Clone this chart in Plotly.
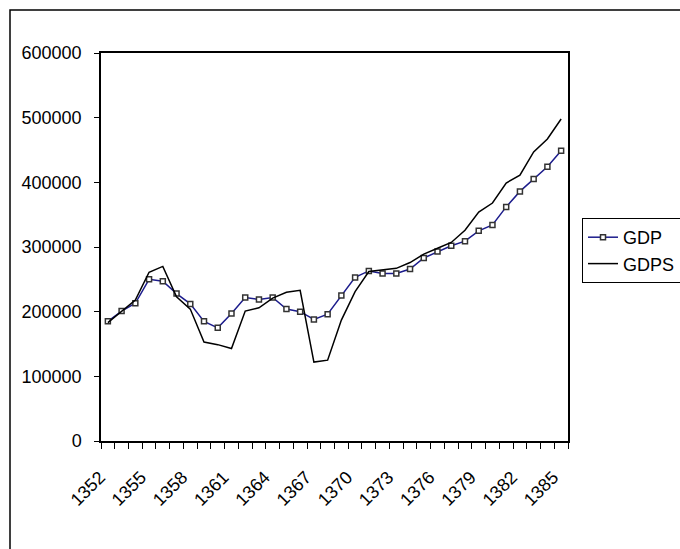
import plotly.graph_objects as go

years = list(range(1352, 1386))
gdp = [185000, 201000, 213000, 250000, 247000, 228000, 212000, 185000, 175000, 197000,
       222000, 219000, 222000, 204000, 200000, 188000, 196000, 225000, 253000, 263000,
       259000, 259000, 266000, 283000, 293000, 302000, 309000, 325000, 334000, 362000,
       386000, 405000, 424000, 449000]
gdps = [183000, 200000, 218000, 261000, 270000, 223000, 204000, 153000, 149000, 143000,
        201000, 206000, 221000, 230000, 233000, 122000, 125000, 187000, 231000, 262000,
        265000, 267000, 276000, 289000, 298000, 307000, 326000, 354000, 368000, 399000,
        411000, 447000, 467000, 498000]
tick_years = list(range(1352, 1386, 3))
y_ticks = [0, 100000, 200000, 300000, 400000, 500000, 600000]

FONT = "Liberation Sans, Arial, sans-serif"

fig = go.Figure()
fig.add_trace(go.Scatter(
    x=years, y=gdp, name="GDP", mode="lines+markers",
    line=dict(color="#1c1c8c", width=1.5),
    marker=dict(symbol="square", size=5, color="white",
                line=dict(color="#333333", width=1.5)),
))
fig.add_trace(go.Scatter(
    x=years, y=gdps, name="GDPS", mode="lines",
    line=dict(color="black", width=1.5),
))

L, R, T, B = 101, 568, 53, 441
W, H = 680, 549
pw, ph = R - L, B - T

fig.update_layout(
    width=W, height=H,
    margin=dict(l=L, r=W - R, t=T, b=H - B, pad=0, autoexpand=False),
    paper_bgcolor="white", plot_bgcolor="white",
    font=dict(family=FONT, size=18, color="black"),
    showlegend=True,
    legend=dict(
        x=(582 - L) / pw, y=(B - 218) / ph, xanchor="left", yanchor="top",
        bordercolor="black", borderwidth=1, bgcolor="white",
        font=dict(family=FONT, size=18, color="black"),
        tracegroupgap=0, itemwidth=30,
    ),
    xaxis=dict(
        range=[1351.5, 1385.5],
        tickvals=tick_years, ticktext=[str(v) for v in tick_years],
        tickangle=-45, ticks="", showgrid=False, zeroline=False,
        showline=True, linecolor="black", linewidth=1.5, mirror=True,
        ticklabelstandoff=17, ticklabelshift=-8, automargin=False,
        tickfont=dict(family=FONT, size=18),
        minor=dict(ticks="outside", tick0=1351.5, dtick=1, ticklen=6,
                   tickcolor="black", tickwidth=1, showgrid=False),
    ),
    yaxis=dict(
        range=[0, 600000],
        tickvals=y_ticks, ticktext=[str(v) for v in y_ticks],
        ticks="outside", ticklen=5, tickcolor="black", tickwidth=1,
        showgrid=False, zeroline=False,
        showline=True, linecolor="black", linewidth=1.5, mirror=True,
        ticklabelstandoff=9, automargin=False,
        tickfont=dict(family=FONT, size=18),
    ),
    shapes=[dict(
        type="rect", xref="paper", yref="paper",
        x0=(10 - L) / pw, x1=(W + 20 - L) / pw,
        y0=(B - (H + 20)) / ph, y1=(B - 10) / ph,
        line=dict(color="black", width=1.5), fillcolor="rgba(0,0,0,0)",
        layer="below",
    )],
)

fig.write_html(
    "out.html",
    config={"displayModeBar": False},
    post_script="document.body.style.margin='0';document.body.style.overflow='hidden';",
)
